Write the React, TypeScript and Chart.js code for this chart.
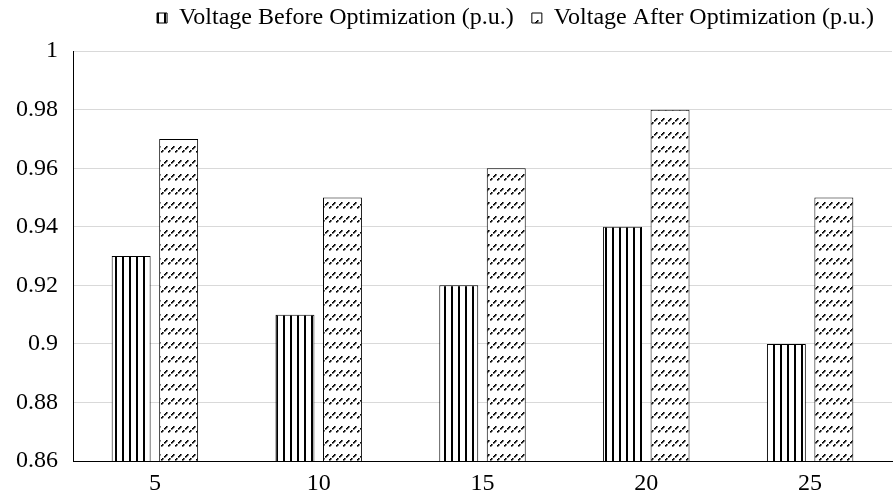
import React, { useEffect, useRef } from "react";
import { Chart, registerables } from "chart.js";

Chart.register(...registerables);

const categories = ["5", "10", "15", "20", "25"];
const seriesNames = ["Voltage Before Optimization (p.u.)", "Voltage After Optimization (p.u.)"];
const voltageBefore = [0.93, 0.91, 0.92, 0.94, 0.9];
const voltageAfter = [0.97, 0.95, 0.96, 0.98, 0.95];
const yMin = 0.86;
const yMax = 1;
const yStep = 0.02;

const FONT = "'Liberation Serif', 'Times New Roman', serif";

function verticalPattern(ctx: CanvasRenderingContext2D): CanvasPattern {
  const c = document.createElement("canvas");
  c.width = 7;
  c.height = 7;
  const g = c.getContext("2d")!;
  g.fillStyle = "#ffffff";
  g.fillRect(0, 0, 7, 7);
  g.fillStyle = "#000000";
  g.fillRect(3, 0, 2, 7);
  return ctx.createPattern(c, "repeat")!;
}

function diagonalPattern(ctx: CanvasRenderingContext2D): CanvasPattern {
  const w = 7;
  const h = 14;
  const c = document.createElement("canvas");
  c.width = w;
  c.height = h;
  const g = c.getContext("2d")!;
  g.fillStyle = "#ffffff";
  g.fillRect(0, 0, w, h);
  g.fillStyle = "#000000";
  const dots = [
    [0, 11],
    [1, 10],
    [3, 8],
    [4, 7],
    [5, 6],
  ];
  dots.forEach(([x, y]) => g.fillRect(x, y, 1.6, 1.6));
  return ctx.createPattern(c, "repeat")!;
}

export default function App() {
  const canvasRef = useRef<HTMLCanvasElement | null>(null);

  useEffect(() => {
    const canvas = canvasRef.current;
    if (!canvas) return;
    const ctx = canvas.getContext("2d")!;
    const chart = new Chart(ctx, {
      type: "bar",
      data: {
        labels: categories,
        datasets: [
          {
            label: seriesNames[0],
            data: voltageBefore,
            backgroundColor: verticalPattern(ctx),
            borderColor: "#000000",
            borderWidth: 1,
            barPercentage: 0.82,
            categoryPercentage: 0.58,
          },
          {
            label: seriesNames[1],
            data: voltageAfter,
            backgroundColor: diagonalPattern(ctx),
            borderColor: "#000000",
            borderWidth: 1,
            barPercentage: 0.82,
            categoryPercentage: 0.58,
          },
        ],
      },
      options: {
        animation: false,
        responsive: true,
        maintainAspectRatio: false,
        layout: { padding: { top: -12, right: 1, left: 0, bottom: 0 } },
        plugins: {
          legend: {
            position: "top",
            align: "end",
            labels: {
              color: "#000000",
              font: { family: FONT, size: 24 },
              boxWidth: 10,
              boxHeight: 10,
              padding: 18,
            },
          },
          title: {
            display: true,
            text: "",
            weight: 500,
            font: { size: 1 },
            padding: { top: 10, bottom: 0 },
          },
          tooltip: { enabled: false },
        },
        scales: {
          x: {
            grid: { display: false, drawTicks: false },
            border: { color: "#000000", width: 1 },
            ticks: {
              color: "#000000",
              font: { family: FONT, size: 24 },
              padding: 8,
            },
            afterFit: (s: any) => {
              s.height = 38;
            },
          },
          y: {
            min: yMin,
            max: yMax,
            grid: { color: "#d9d9d9", lineWidth: 1, drawTicks: false },
            border: { color: "#000000", width: 1 },
            ticks: {
              stepSize: yStep,
              color: "#000000",
              font: { family: FONT, size: 24 },
              padding: 15,
              callback: (v: any) => String(Number(Number(v).toFixed(2))),
            },
            afterFit: (s: any) => {
              s.width = 73;
            },
          },
        },
      },
    });
    return () => chart.destroy();
  }, []);

  return (
    <div style={{ position: "fixed", left: 0, top: 0, width: 893, height: 499, background: "#ffffff" }}>
      <canvas ref={canvasRef} />
    </div>
  );
}
